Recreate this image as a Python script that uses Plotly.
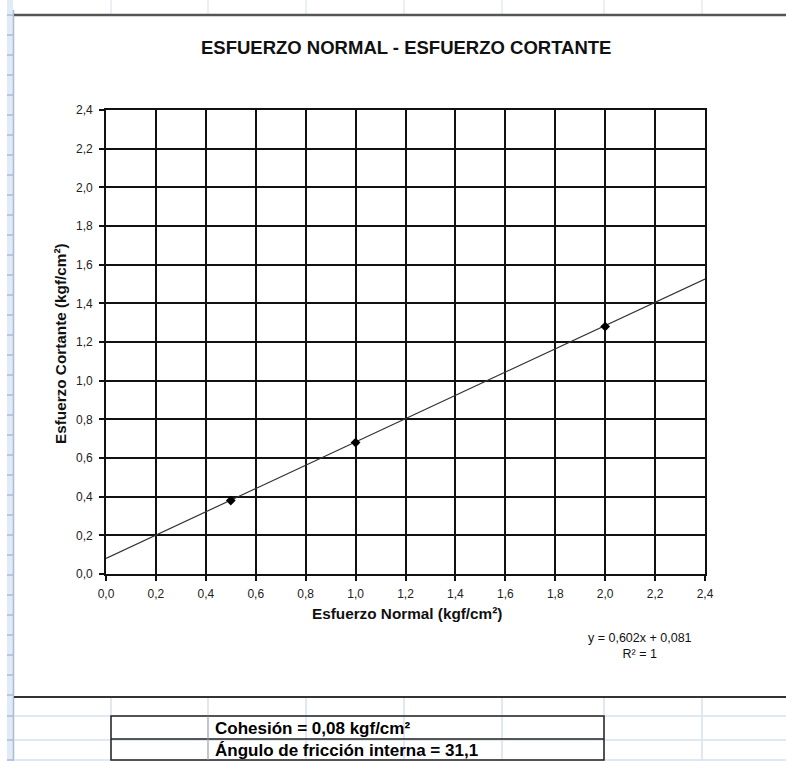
import plotly.graph_objects as go

# ---- data ----
esfuerzo_normal = [0.5, 1.0, 2.0]
esfuerzo_cortante = [0.38, 0.68, 1.28]
pendiente = 0.602
intercepto = 0.081
trend_x = [0.0, 2.4]
trend_y = [intercepto + pendiente * v for v in trend_x]
tick_vals = [0.0, 0.2, 0.4, 0.6, 0.8, 1.0, 1.2, 1.4, 1.6, 1.8, 2.0, 2.2, 2.4]

titulo = "ESFUERZO NORMAL - ESFUERZO CORTANTE"
x_titulo = "Esfuerzo Normal (kgf/cm²)"
y_titulo = "Esfuerzo Cortante (kgf/cm²)"
ecuacion = "y = 0,602x + 0,081"
r2 = "R² = 1"
cohesion = "Cohesión = 0,08 kgf/cm²"
angulo = "Ángulo de fricción interna = 31,1"

W, H = 786, 761
L, R, T, B = 106, 81, 110, 187
PW, PH = W - L - R, H - T - B
FONT = "Liberation Sans, Arial"


def px(x):
    return (x - L) / PW


def py(y):
    return (H - B - y) / PH


fig = go.Figure()
fig.add_trace(go.Scatter(x=trend_x, y=trend_y, mode="lines",
                         line=dict(color="#333333", width=1.2),
                         hoverinfo="skip", showlegend=False))
fig.add_trace(go.Scatter(x=esfuerzo_normal, y=esfuerzo_cortante, mode="markers",
                         marker=dict(symbol="diamond", size=7.5, color="black"),
                         showlegend=False))

shapes = []
LIGHT = "#d7e0ec"
# left row-header strip
shapes.append(dict(type="rect", xref="paper", yref="paper",
                   x0=px(7), x1=px(13), y0=py(0), y1=py(761),
                   fillcolor="#e2eaf5", line=dict(width=0), layer="below"))
shapes.append(dict(type="line", xref="paper", yref="paper",
                   x0=px(13.5), x1=px(13.5), y0=py(10), y1=py(761),
                   line=dict(color="#a9bdd6", width=1.5)))
for r in list(range(15, 700, 20)) + [716, 740, 760]:
    shapes.append(dict(type="line", xref="paper", yref="paper",
                       x0=px(7), x1=px(13), y0=py(r), y1=py(r),
                       line=dict(color="#a9bdd6", width=1.5)))
cols = [111, 208, 306, 404, 502, 604, 702]
# top column marks
for c in cols:
    shapes.append(dict(type="line", xref="paper", yref="paper",
                       x0=px(c), x1=px(c), y0=py(0), y1=py(14),
                       line=dict(color=LIGHT, width=1)))
# top and bottom chart borders
shapes.append(dict(type="line", xref="paper", yref="paper",
                   x0=px(14), x1=px(786), y0=py(15), y1=py(15),
                   line=dict(color="#555555", width=2.5)))
shapes.append(dict(type="line", xref="paper", yref="paper",
                   x0=px(14), x1=px(786), y0=py(697), y1=py(697),
                   line=dict(color="#333333", width=2)))
# cell grid below
for r in [716, 740, 760]:
    shapes.append(dict(type="line", xref="paper", yref="paper",
                       x0=px(14), x1=px(786), y0=py(r), y1=py(r),
                       line=dict(color=LIGHT, width=1.5)))
for c in cols:
    shapes.append(dict(type="line", xref="paper", yref="paper",
                       x0=px(c), x1=px(c), y0=py(698), y1=py(761),
                       line=dict(color=LIGHT, width=1.5)))
# table box
shapes.append(dict(type="rect", xref="paper", yref="paper",
                   x0=px(111), x1=px(604), y0=py(716), y1=py(760),
                   line=dict(color="#222222", width=1.5)))
shapes.append(dict(type="line", xref="paper", yref="paper",
                   x0=px(111), x1=px(604), y0=py(739), y1=py(739),
                   line=dict(color="#222222", width=1.5)))
shapes.append(dict(type="line", xref="paper", yref="paper",
                   x0=px(208), x1=px(208), y0=py(716), y1=py(760),
                   line=dict(color="#9aa4b4", width=1)))

annotations = [
    dict(text="<b>" + titulo + "</b>", x=px(406), y=py(47), xref="paper", yref="paper",
         showarrow=False, font=dict(family=FONT, size=18.5, color="#111111"),
         xanchor="center", yanchor="middle"),
    dict(text="<b>" + x_titulo + "</b>", x=px(407), y=py(613), xref="paper", yref="paper",
         showarrow=False, font=dict(family=FONT, size=15.3, color="#111111"),
         xanchor="center", yanchor="middle"),
    dict(text="<b>" + y_titulo + "</b>", x=px(60), y=py(344), xref="paper", yref="paper",
         showarrow=False, textangle=-90,
         font=dict(family=FONT, size=15.3, color="#111111"),
         xanchor="center", yanchor="middle"),
    dict(text=ecuacion + "<br>" + r2, x=px(640), y=py(646), xref="paper", yref="paper",
         showarrow=False, font=dict(family=FONT, size=12.5, color="#111111"),
         xanchor="center", yanchor="middle", align="center"),
    dict(text="<b>" + cohesion + "</b>", x=px(213), y=py(728), xref="paper", yref="paper",
         showarrow=False, font=dict(family=FONT, size=17, color="#000000"),
         xanchor="left", yanchor="middle"),
    dict(text="<b>" + angulo + "</b>", x=px(213), y=py(750), xref="paper", yref="paper",
         showarrow=False, font=dict(family=FONT, size=17, color="#000000"),
         xanchor="left", yanchor="middle"),
]

axis_common = dict(
    range=[0, 2.4], tickvals=tick_vals, tickformat=".1f",
    showgrid=True, gridcolor="#111111", gridwidth=1.6,
    showline=True, linecolor="#111111", linewidth=1.6, mirror=True,
    ticks="outside", ticklen=5, tickcolor="#111111", tickwidth=1.5,
    zeroline=False, tickfont=dict(family=FONT, size=12, color="#222222"),
)

fig.update_layout(
    width=W, height=H,
    margin=dict(l=L, r=R, t=T, b=B),
    paper_bgcolor="white", plot_bgcolor="white",
    separators=",.",
    xaxis=dict(**axis_common, ticklabelstandoff=3),
    yaxis=dict(**axis_common, ticklabelstandoff=4),
    shapes=shapes, annotations=annotations,
    showlegend=False,
)
fig.write_html("out.html")
